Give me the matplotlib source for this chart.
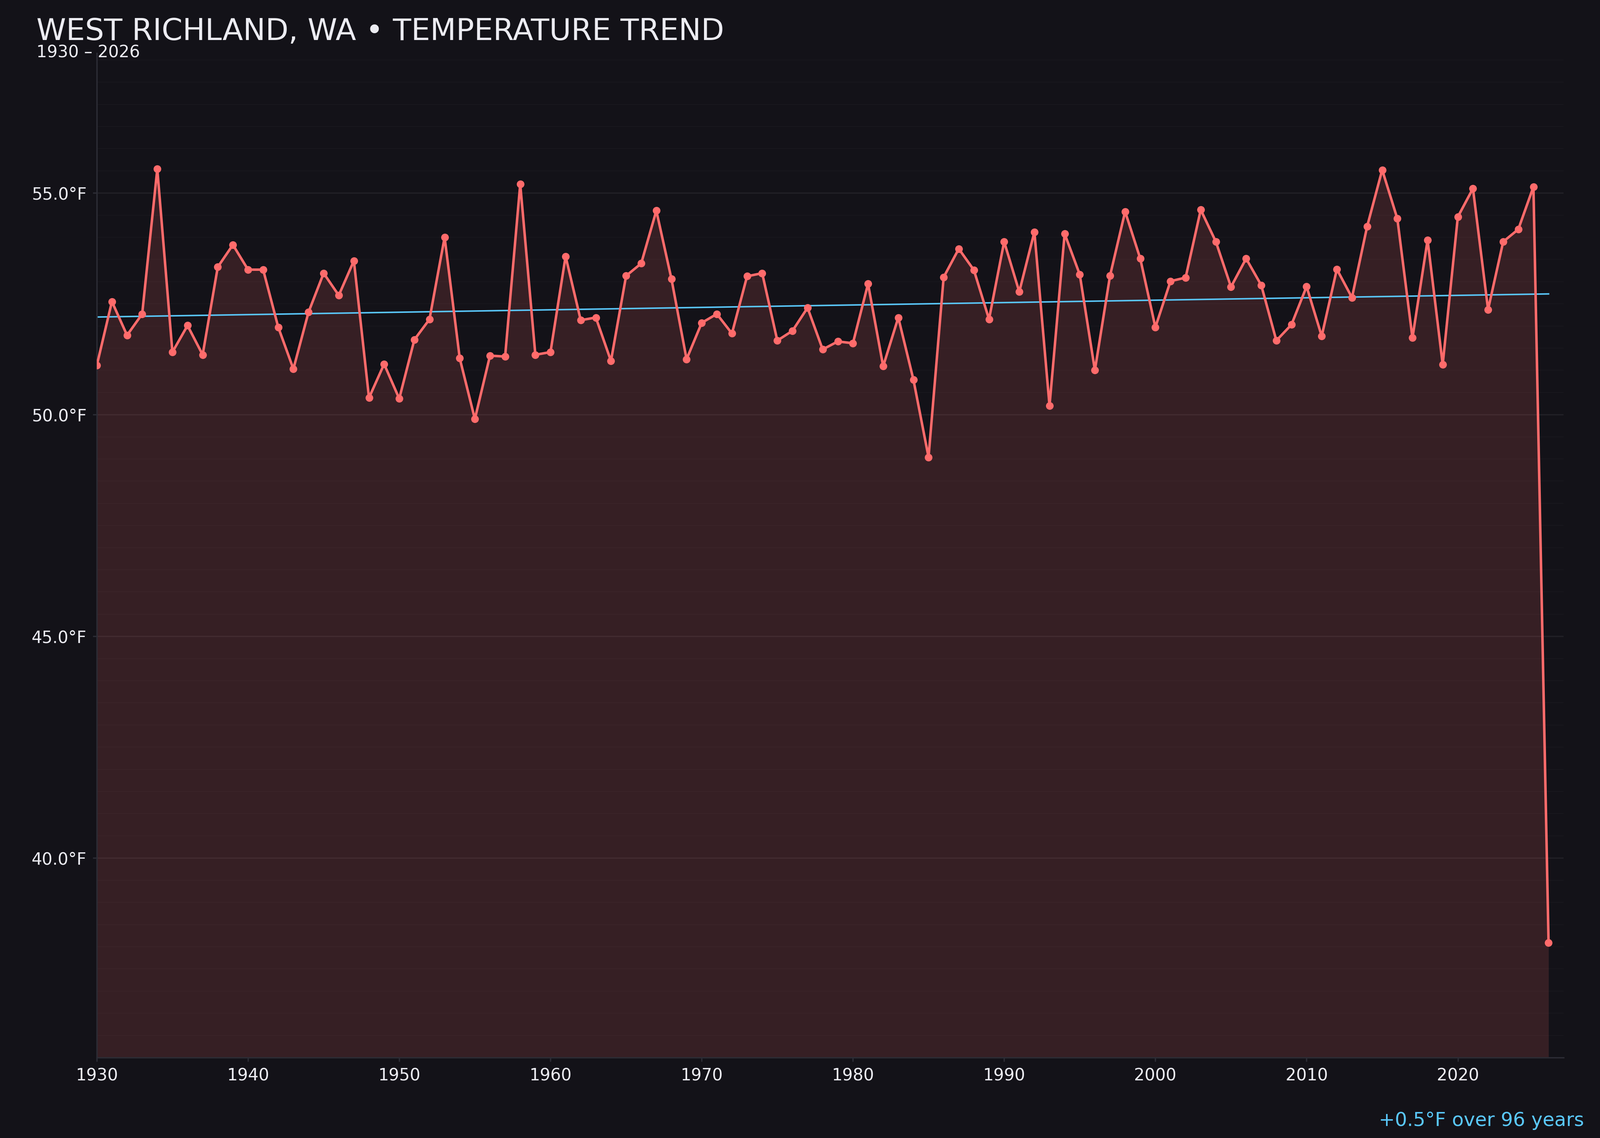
import numpy as np
import matplotlib
matplotlib.use('Agg')
import matplotlib.pyplot as plt
from matplotlib.ticker import MultipleLocator, FuncFormatter

# annual mean temperature, West Richland WA
years = list(range(1930, 2027))
temps = [
    51.11, 52.55, 51.79, 52.27, 55.54, 51.41, 52.01, 51.35, 53.33, 53.83,  # 1930s
    53.27, 53.27, 51.97, 51.03, 52.31, 53.19, 52.69, 53.47, 50.38, 51.14,  # 1940s
    50.36, 51.69, 52.15, 54.00, 51.27, 49.90, 51.33, 51.31, 55.20, 51.35,  # 1950s
    51.41, 53.57, 52.13, 52.19, 51.21, 53.13, 53.41, 54.60, 53.06, 51.25,  # 1960s
    52.07, 52.27, 51.83, 53.12, 53.19, 51.67, 51.89, 52.41, 51.47, 51.65,  # 1970s
    51.61, 52.95, 51.09, 52.19, 50.79, 49.04, 53.10, 53.74, 53.26, 52.15,  # 1980s
    53.90, 52.77, 54.12, 50.20, 54.08, 53.16, 51.00, 53.13, 54.58, 53.52,  # 1990s
    51.97, 53.01, 53.09, 54.62, 53.90, 52.88, 53.52, 52.92, 51.67, 52.03,  # 2000s
    52.89, 51.77, 53.28, 52.64, 54.24, 55.52, 54.42, 51.73, 53.94, 51.13,  # 2010s
    54.46, 55.10, 52.37, 53.90, 54.18, 55.14, 38.09,                       # 2020s
]
x_ticks = [1930, 1940, 1950, 1960, 1970, 1980, 1990, 2000, 2010, 2020]
title = 'WEST RICHLAND, WA \u2022 TEMPERATURE TREND'
subtitle = '1930 \u2013 2026'

BG = '#131218'
LINE = '#ff6b6b'
TREND = '#5ac8fa'
TEXT = '#ececf2'

yrs = np.array(years)
t = np.array(temps)
slope, icpt = np.polyfit(yrs, t, 1)
span = years[-1] - years[0]

fig = plt.figure(figsize=(4000 / 300, 2844 / 300), dpi=300, facecolor=BG)
ax = fig.add_axes([0.0605, 0.0707, 0.9168, 0.8825])
ax.set_facecolor(BG)

ymin, ymax = 35.5, 58.15
ax.fill_between(yrs, t, ymin, color=LINE, alpha=0.15, lw=0, zorder=1)
ax.plot(yrs, t, color=LINE, lw=1.5, marker='o', ms=3.6, zorder=3)
ax.plot(yrs, slope * yrs + icpt, color=TREND, lw=0.9, zorder=2)

ax.set_xlim(1930, 2027)
ax.set_ylim(ymin, ymax)
ax.set_xticks(x_ticks)
ax.yaxis.set_major_locator(MultipleLocator(5))
ax.yaxis.set_minor_locator(MultipleLocator(0.5))
ax.yaxis.set_major_formatter(FuncFormatter(lambda v, p: f'{v:.1f}\u00b0F'))

ax.grid(axis='y', which='major', color='#212026', lw=0.8, zorder=0)
ax.grid(axis='y', which='minor', color='#18171d', lw=0.5, zorder=0)
ax.set_axisbelow(True)

for s in ['top', 'right']:
    ax.spines[s].set_visible(False)
for s in ['left', 'bottom']:
    ax.spines[s].set_color('#2c2c35')
    ax.spines[s].set_linewidth(0.8)

ax.tick_params(which='major', colors='#2c2c35', labelcolor=TEXT, labelsize=10, length=2.5, width=0.8)
ax.tick_params(which='minor', length=0)

fig.text(0.0228, 0.9648, title, color=TEXT, fontsize=18, va='baseline', ha='left')
fig.text(0.0228, 0.9497, subtitle, color=TEXT, fontsize=10, va='baseline', ha='left')
fig.text(0.990, 0.0105, f'{slope * span:+.1f}\u00b0F over {span} years', color=TREND,
         fontsize=11.5, va='baseline', ha='right')

fig.savefig('out.png', dpi=300, facecolor=BG)
